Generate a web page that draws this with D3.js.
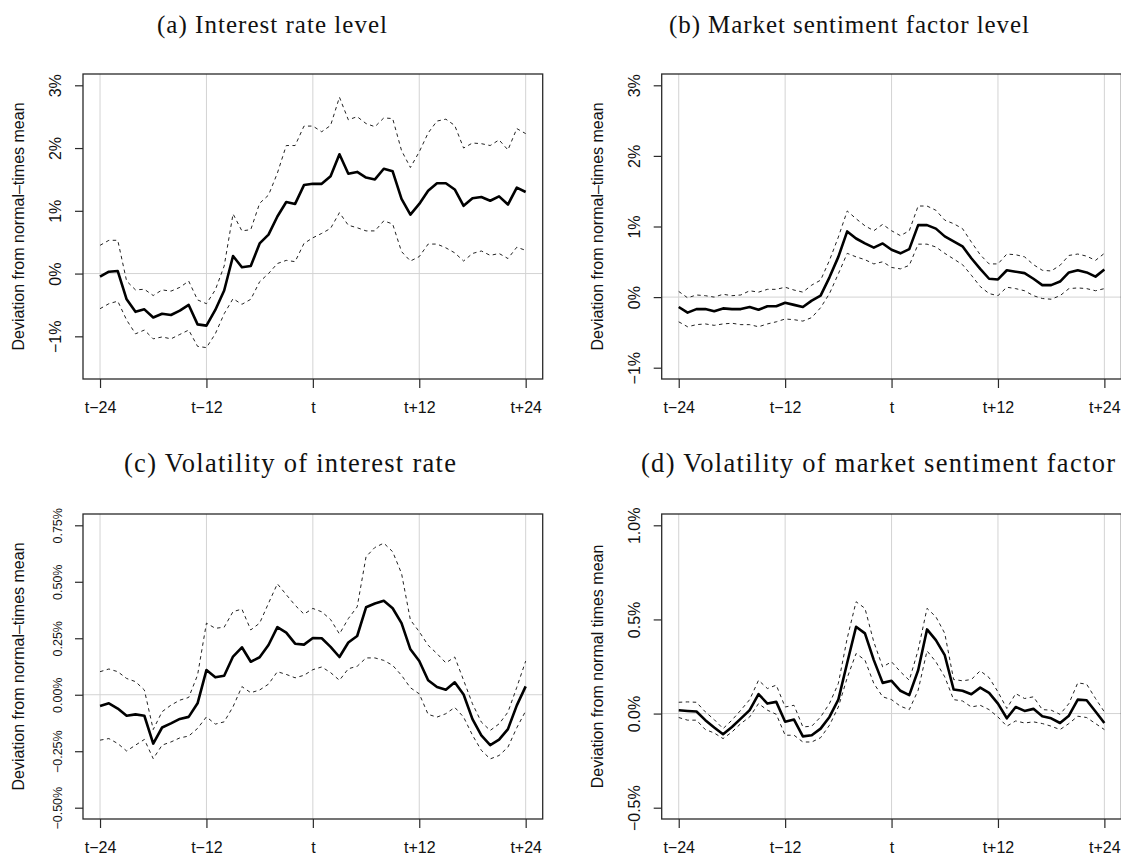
<!DOCTYPE html>
<html>
<head>
<meta charset="utf-8">
<script src="https://cdn.jsdelivr.net/npm/d3@7"></script>
<style>
  body { margin: 0; background: #fff; }
  svg { display: block; }
</style>
</head>
<body>
<svg id="fig" width="1121" height="855"></svg>
<script>
// Event window: months relative to the crisis onset t
const months = d3.range(-24, 25);
const monthTicks = [-24, -12, 0, 12, 24];
const monthTickLabels = ["t−24", "t−12", "t", "t+12", "t+24"];

// (a) Interest rate level, % deviation from normal-times mean
const rateLevelMean = [
  -0.05, 0.03, 0.04, -0.41, -0.61, -0.57, -0.70, -0.64, -0.66, -0.59, -0.50, -0.81,
  -0.83, -0.58, -0.27, 0.28, 0.10, 0.12, 0.48, 0.62, 0.91, 1.14, 1.11, 1.41,
  1.43, 1.43, 1.55, 1.90, 1.59, 1.62, 1.53, 1.50, 1.67, 1.63, 1.19, 0.94,
  1.11, 1.32, 1.44, 1.44, 1.34, 1.08, 1.20, 1.22, 1.16, 1.23, 1.10, 1.37, 1.30
];
const rateLevelUpper = [
  0.45, 0.53, 0.53, -0.12, -0.26, -0.25, -0.35, -0.26, -0.28, -0.22, -0.12, -0.42,
  -0.48, -0.26, 0.12, 0.95, 0.68, 0.70, 1.12, 1.25, 1.60, 2.04, 2.04, 2.35,
  2.35, 2.26, 2.36, 2.81, 2.45, 2.50, 2.39, 2.34, 2.48, 2.47, 1.96, 1.69,
  1.94, 2.24, 2.43, 2.46, 2.36, 2.00, 2.08, 2.07, 2.04, 2.13, 1.97, 2.31, 2.23
];
const rateLevelLower = [
  -0.56, -0.48, -0.44, -0.74, -0.96, -0.90, -1.04, -1.01, -1.04, -0.97, -0.90, -1.16,
  -1.18, -0.96, -0.64, -0.40, -0.49, -0.41, -0.13, 0.00, 0.16, 0.21, 0.19, 0.48,
  0.57, 0.64, 0.72, 0.97, 0.77, 0.73, 0.68, 0.68, 0.84, 0.79, 0.35, 0.20,
  0.27, 0.47, 0.47, 0.41, 0.33, 0.20, 0.32, 0.36, 0.29, 0.32, 0.24, 0.42, 0.37
];

// (b) Market sentiment factor level
const sentLevelMean = [
  -0.14, -0.22, -0.17, -0.17, -0.20, -0.16, -0.17, -0.17, -0.14, -0.18, -0.13, -0.13,
  -0.08, -0.11, -0.14, -0.05, 0.02, 0.28, 0.57, 0.93, 0.83, 0.76, 0.70, 0.76,
  0.67, 0.62, 0.68, 1.02, 1.02, 0.97, 0.86, 0.79, 0.72, 0.55, 0.40, 0.26,
  0.25, 0.38, 0.36, 0.34, 0.26, 0.17, 0.17, 0.22, 0.35, 0.38, 0.35, 0.29, 0.39
];
const sentLevelUpper = [
  0.08, -0.01, 0.03, 0.02, 0.00, 0.04, 0.02, 0.03, 0.09, 0.07, 0.11, 0.11,
  0.14, 0.10, 0.07, 0.17, 0.24, 0.52, 0.85, 1.22, 1.11, 1.01, 0.94, 1.03,
  0.94, 0.87, 0.94, 1.29, 1.29, 1.23, 1.09, 1.04, 0.97, 0.78, 0.60, 0.47,
  0.47, 0.61, 0.60, 0.57, 0.46, 0.38, 0.37, 0.45, 0.59, 0.61, 0.58, 0.52, 0.62
];
const sentLevelLower = [
  -0.35, -0.42, -0.39, -0.38, -0.40, -0.38, -0.37, -0.39, -0.39, -0.42, -0.38, -0.35,
  -0.31, -0.32, -0.34, -0.29, -0.15, 0.05, 0.33, 0.62, 0.57, 0.53, 0.47, 0.50,
  0.42, 0.40, 0.45, 0.75, 0.75, 0.71, 0.62, 0.54, 0.46, 0.31, 0.15, 0.05,
  0.02, 0.14, 0.12, 0.09, 0.02, -0.02, -0.03, 0.02, 0.12, 0.13, 0.12, 0.09, 0.12
];

// (c) Volatility of interest rate
const rateVolMean = [
  -0.050, -0.038, -0.061, -0.093, -0.087, -0.093, -0.216, -0.145, -0.127, -0.107, -0.098, -0.038,
  0.109, 0.077, 0.084, 0.169, 0.210, 0.146, 0.166, 0.220, 0.299, 0.275, 0.226, 0.222,
  0.251, 0.250, 0.212, 0.167, 0.231, 0.260, 0.387, 0.404, 0.416, 0.383, 0.317, 0.201,
  0.149, 0.064, 0.034, 0.022, 0.055, 0.001, -0.108, -0.180, -0.223, -0.199, -0.152, -0.047, 0.037
];
const rateVolUpper = [
  0.102, 0.114, 0.102, 0.072, 0.058, 0.021, -0.154, -0.075, -0.046, -0.024, -0.012, 0.087,
  0.317, 0.294, 0.299, 0.368, 0.379, 0.287, 0.317, 0.405, 0.491, 0.443, 0.396, 0.357,
  0.382, 0.367, 0.333, 0.269, 0.337, 0.389, 0.611, 0.652, 0.671, 0.633, 0.537, 0.331,
  0.279, 0.219, 0.182, 0.141, 0.167, 0.064, -0.040, -0.121, -0.158, -0.129, -0.077, 0.033, 0.149
];
const rateVolLower = [
  -0.201, -0.194, -0.216, -0.249, -0.223, -0.198, -0.283, -0.223, -0.209, -0.191, -0.183, -0.149,
  -0.098, -0.130, -0.120, -0.053, 0.036, 0.009, 0.021, 0.047, 0.102, 0.090, 0.075, 0.086,
  0.111, 0.123, 0.098, 0.064, 0.115, 0.126, 0.163, 0.163, 0.152, 0.130, 0.086, 0.031,
  0.004, -0.087, -0.099, -0.084, -0.056, -0.099, -0.179, -0.246, -0.284, -0.269, -0.232, -0.146, -0.072
];

// (d) Volatility of market sentiment factor
const sentVolMean = [
  0.018, 0.014, 0.011, -0.035, -0.074, -0.110, -0.071, -0.027, 0.018, 0.103, 0.053, 0.062,
  -0.043, -0.032, -0.121, -0.115, -0.080, -0.018, 0.074, 0.270, 0.461, 0.426, 0.284, 0.163,
  0.174, 0.121, 0.098, 0.230, 0.447, 0.390, 0.310, 0.128, 0.121, 0.103, 0.138, 0.110,
  0.053, -0.025, 0.035, 0.014, 0.025, -0.014, -0.025, -0.050, -0.011, 0.074, 0.071, 0.011, -0.050
];
const sentVolUpper = [
  0.060, 0.062, 0.060, 0.009, -0.032, -0.080, -0.035, 0.018, 0.074, 0.177, 0.133, 0.151,
  0.035, 0.044, -0.071, -0.067, -0.018, 0.053, 0.160, 0.400, 0.594, 0.559, 0.380, 0.248,
  0.275, 0.222, 0.177, 0.337, 0.559, 0.514, 0.426, 0.181, 0.174, 0.181, 0.227, 0.191,
  0.115, 0.027, 0.106, 0.080, 0.089, 0.021, 0.018, -0.004, 0.053, 0.163, 0.156, 0.080, 0.009
];
const sentVolLower = [
  -0.021, -0.035, -0.035, -0.085, -0.103, -0.133, -0.098, -0.053, -0.018, 0.053, 0.018, -0.004,
  -0.115, -0.115, -0.151, -0.151, -0.128, -0.062, 0.035, 0.190, 0.319, 0.284, 0.160, 0.089,
  0.074, 0.039, 0.021, 0.124, 0.333, 0.275, 0.195, 0.074, 0.067, 0.035, 0.044, 0.021,
  -0.018, -0.067, -0.039, -0.050, -0.044, -0.053, -0.067, -0.085, -0.053, -0.014, -0.021, -0.053, -0.085
];

// Y-axis ticks and their labels for each panel
const levelTicks = [-1, 0, 1, 2, 3];
const levelTickLabels = ["−1%", "0%", "1%", "2%", "3%"];
const rateVolTicks = [-0.5, -0.25, 0, 0.25, 0.5, 0.75];
const rateVolTickLabels = ["−0.50%", "−0.25%", "0.00%", "0.25%", "0.50%", "0.75%"];
const sentVolTicks = [-0.5, 0, 0.5, 1.0];
const sentVolTickLabels = ["−0.5%", "0.0%", "0.5%", "1.0%"];

// Layout of the four panels
const plotW = 459.7, plotH = 305;
const panels = [
  { title: "(a) Interest rate level", tx: 272, ty: 33, tw: 230, tsize: 25, left: 83, top: 74,
    ylim: [-1.5, 3], yTicks: levelTicks, yTickLabels: levelTickLabels, tickFont: 16,
    ytitle: "Deviation from normal–times mean",
    mean: rateLevelMean, upper: rateLevelUpper, lower: rateLevelLower },
  { title: "(b) Market sentiment factor level", tx: 849, ty: 33, tw: 360, tsize: 25, left: 661.7, top: 74,
    ylim: [-1, 3], yTicks: levelTicks, yTickLabels: levelTickLabels, tickFont: 16,
    ytitle: "Deviation from normal–times mean",
    mean: sentLevelMean, upper: sentLevelUpper, lower: sentLevelLower },
  { title: "(c) Volatility of interest rate", tx: 290, ty: 472, tw: 332, tsize: 26.5, left: 83, top: 514,
    ylim: [-0.5, 0.75], yTicks: rateVolTicks, yTickLabels: rateVolTickLabels, tickFont: 12.5,
    ytitle: "Deviation from normal–times mean",
    mean: rateVolMean, upper: rateVolUpper, lower: rateVolLower },
  { title: "(d) Volatility of market sentiment factor", tx: 878, ty: 472, tw: 474, tsize: 26.5, left: 661.7, top: 514,
    ylim: [-0.5, 1.0], yTicks: sentVolTicks, yTickLabels: sentVolTickLabels, tickFont: 16,
    ytitle: "Deviation from normal times mean",
    mean: sentVolMean, upper: sentVolUpper, lower: sentVolLower }
];

const svg = d3.select("#fig");
const sans = "'Liberation Sans', Arial, Helvetica, sans-serif";
const serif = "'Liberation Serif', 'Times New Roman', serif";

// R-style 4% axis padding
function padded([a, b]) { const p = (b - a) * 0.04; return [a - p, b + p]; }

panels.forEach(p => {
  const x = d3.scaleLinear().domain(padded([-24, 24])).range([p.left, p.left + plotW]);
  const y = d3.scaleLinear().domain(padded(p.ylim)).range([p.top + plotH, p.top]);
  const g = svg.append("g");

  // Title
  svg.append("text")
    .attr("x", p.tx).attr("y", p.ty)
    .attr("text-anchor", "middle")
    .attr("textLength", p.tw).attr("lengthAdjust", "spacing")
    .style("font-family", serif).style("font-size", p.tsize + "px")
    .attr("fill", "#111")
    .text(p.title);

  // Grid: vertical lines at the month ticks, horizontal zero line
  g.selectAll("line.vgrid").data(monthTicks).join("line")
    .attr("x1", d => x(d)).attr("x2", d => x(d))
    .attr("y1", p.top).attr("y2", p.top + plotH)
    .attr("stroke", "#d3d3d3").attr("stroke-width", 1);
  g.append("line")
    .attr("x1", p.left).attr("x2", p.left + plotW)
    .attr("y1", y(0)).attr("y2", y(0))
    .attr("stroke", "#d3d3d3").attr("stroke-width", 1);

  const line = d3.line().x((d, i) => x(months[i])).y(d => y(d));

  // Confidence bands
  [p.upper, p.lower].forEach(s => {
    g.append("path").datum(s)
      .attr("d", line).attr("fill", "none")
      .attr("stroke", "#222").attr("stroke-width", 1)
      .attr("stroke-dasharray", "3.5,3.5");
  });
  // Point estimate
  g.append("path").datum(p.mean)
    .attr("d", line).attr("fill", "none")
    .attr("stroke", "#000").attr("stroke-width", 2.6)
    .attr("stroke-linejoin", "round");

  // Frame
  g.append("rect")
    .attr("x", p.left).attr("y", p.top)
    .attr("width", plotW).attr("height", plotH)
    .attr("fill", "none").attr("stroke", "#2a2a2a").attr("stroke-width", 1.3);

  // X axis
  const xAxis = d3.axisBottom(x).tickValues(monthTicks)
    .tickFormat((d, i) => monthTickLabels[i])
    .tickSize(9).tickSizeOuter(0).tickPadding(14);
  const gx = g.append("g").attr("transform", `translate(0,${p.top + plotH})`).call(xAxis);
  gx.select(".domain").remove();
  gx.selectAll(".tick line").attr("stroke", "#2a2a2a").attr("stroke-width", 1.2);
  gx.selectAll(".tick text").style("font-family", sans).style("font-size", "16px").attr("fill", "#111");

  // Y axis with labels rotated parallel to the axis
  const yAxis = d3.axisLeft(y).tickValues(p.yTicks)
    .tickFormat((d, i) => p.yTickLabels[i])
    .tickSize(8).tickSizeOuter(0);
  const gy = g.append("g").attr("transform", `translate(${p.left},0)`).call(yAxis);
  gy.select(".domain").remove();
  gy.selectAll(".tick line").attr("stroke", "#2a2a2a").attr("stroke-width", 1.2);
  const off = p.tickFont < 14 ? 21.5 : 22;
  gy.selectAll(".tick text")
    .attr("x", 0).attr("y", 0).attr("dy", 0)
    .attr("text-anchor", "middle")
    .attr("transform", `translate(${-off},0) rotate(-90)`)
    .style("font-family", sans).style("font-size", p.tickFont + "px").attr("fill", "#111");

  // Y axis title
  svg.append("text")
    .attr("transform", `translate(${p.left - 59},${p.top + plotH / 2}) rotate(-90)`)
    .attr("text-anchor", "middle")
    .style("font-family", sans).style("font-size", "16px").attr("fill", "#111")
    .text(p.ytitle);
});
</script>
</body>
</html>
